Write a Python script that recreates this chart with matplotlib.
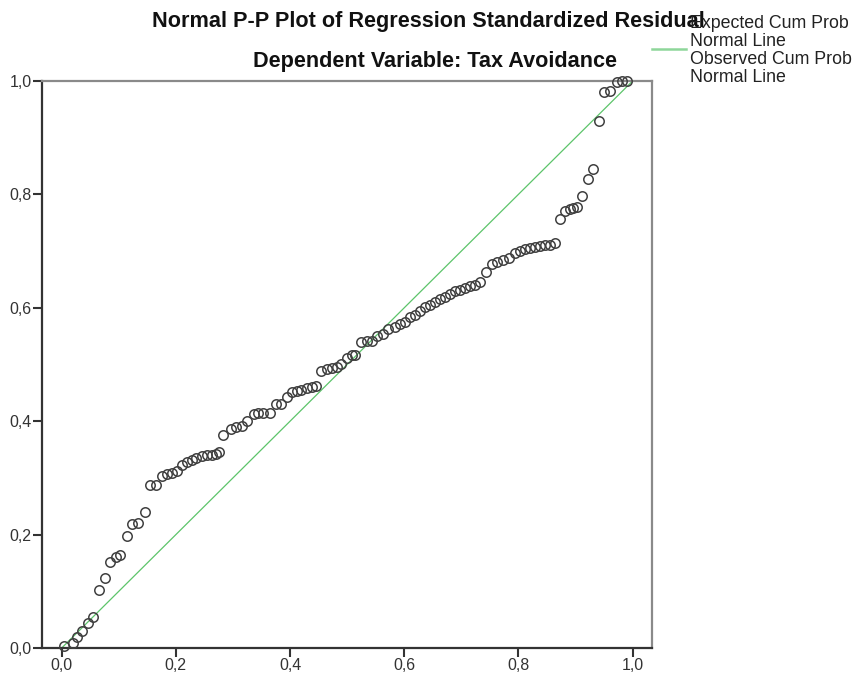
import matplotlib
matplotlib.use('Agg')
import matplotlib.pyplot as plt
from matplotlib.lines import Line2D

plt.rcParams['font.family'] = ['Liberation Sans', 'DejaVu Sans']

# observed vs expected cumulative probabilities
x_obs = [0.004, 0.019, 0.026, 0.036, 0.046, 0.054, 0.065, 0.076, 0.085, 0.095,
         0.103, 0.114, 0.124, 0.134, 0.146, 0.155, 0.165, 0.175, 0.184, 0.193,
         0.202, 0.211, 0.220, 0.228, 0.236, 0.245, 0.254, 0.263, 0.270, 0.276,
         0.283, 0.297, 0.306, 0.315, 0.325, 0.336, 0.344, 0.353, 0.365, 0.376,
         0.385, 0.394, 0.403, 0.412, 0.420, 0.429, 0.438, 0.445, 0.455, 0.464,
         0.473, 0.482, 0.490, 0.499, 0.508, 0.514, 0.525, 0.534, 0.543, 0.552,
         0.563, 0.572, 0.584, 0.592, 0.601, 0.610, 0.619, 0.627, 0.636, 0.645,
         0.654, 0.662, 0.671, 0.680, 0.689, 0.697, 0.706, 0.715, 0.724, 0.732,
         0.743, 0.753, 0.763, 0.773, 0.784, 0.794, 0.803, 0.811, 0.820, 0.829,
         0.838, 0.846, 0.855, 0.864, 0.873, 0.881, 0.890, 0.896, 0.903, 0.912,
         0.922, 0.931, 0.942, 0.950, 0.961, 0.972, 0.982, 0.990]
y_exp = [0.004, 0.008, 0.019, 0.030, 0.044, 0.055, 0.102, 0.123, 0.152, 0.161,
         0.164, 0.198, 0.219, 0.220, 0.239, 0.288, 0.288, 0.303, 0.307, 0.309,
         0.313, 0.323, 0.328, 0.332, 0.335, 0.338, 0.340, 0.341, 0.342, 0.345,
         0.376, 0.386, 0.389, 0.391, 0.400, 0.412, 0.414, 0.414, 0.415, 0.430,
         0.431, 0.442, 0.451, 0.454, 0.455, 0.458, 0.461, 0.462, 0.489, 0.492,
         0.493, 0.495, 0.501, 0.511, 0.516, 0.517, 0.539, 0.541, 0.542, 0.551,
         0.554, 0.563, 0.566, 0.572, 0.575, 0.583, 0.588, 0.595, 0.601, 0.605,
         0.610, 0.616, 0.619, 0.625, 0.629, 0.632, 0.635, 0.638, 0.640, 0.645,
         0.664, 0.678, 0.681, 0.684, 0.687, 0.696, 0.701, 0.704, 0.705, 0.707,
         0.709, 0.710, 0.711, 0.714, 0.757, 0.770, 0.775, 0.776, 0.778, 0.797,
         0.828, 0.845, 0.930, 0.980, 0.983, 0.999, 1.000, 1.000]

ticks = [0.0, 0.2, 0.4, 0.6, 0.8, 1.0]
tick_labels = ['0,0', '0,2', '0,4', '0,6', '0,8', '1,0']
normal_line = [0.0, 1.0]

W, H = 856, 675
fig = plt.figure(figsize=(W / 100, H / 100), dpi=100)
fig.patch.set_facecolor('white')

# axes box in pixels: left 42, right 652, top 81, bottom 648
ax = fig.add_axes([42 / W, 1 - 648 / H, 610 / W, 567 / H])

ax.plot(normal_line, normal_line, color='#5cc46a', lw=0.9, zorder=2,
        clip_on=False)
ax.plot(x_obs, y_exp, ls='none', marker='o', ms=6.8, mfc='none',
        mec='#404040', mew=1.1, zorder=3, clip_on=False)

ax.set_xlim(-0.0345, 1.034)
ax.set_ylim(0.0, 1.0)
ax.set_xticks(ticks)
ax.set_xticklabels(tick_labels)
ax.set_yticks(ticks)
ax.set_yticklabels(tick_labels)

for s in ('left', 'bottom'):
    ax.spines[s].set_color('#333333')
    ax.spines[s].set_linewidth(1.6)
for s in ('top', 'right'):
    ax.spines[s].set_color('#8a8a8a')
    ax.spines[s].set_linewidth(1.6)

ax.tick_params(direction='out', length=6.5, width=1.5, color='#333333',
               labelsize=11.5, labelcolor='#333333', pad=1)

# titles (SPSS style, centred off the axes)
fig.text(428 / W, 1 - 22 / H, 'Normal P-P Plot of Regression Standardized Residual',
         ha='center', va='center', fontsize=15.6, fontweight='bold', color='#111111')
fig.text(435 / W, 1 - 62 / H, 'Dependent Variable: Tax Avoidance',
         ha='center', va='center', fontsize=15.6, fontweight='bold', color='#111111')

# legend in the top-right corner
fig.add_artist(Line2D([652 / W, 686 / W], [1 - 49 / H, 1 - 49 / H],
                      color='#8ed69a', lw=1.8, transform=fig.transFigure))
for txt, yp in [('Expected Cum Prob', 23), ('Normal Line', 42),
                ('Observed Cum Prob', 60), ('Normal Line', 78)]:
    fig.text(690 / W, 1 - yp / H, txt, ha='left', va='center',
             fontsize=12.8, color='#222222')

fig.savefig('out.png', dpi=100, facecolor='white')
